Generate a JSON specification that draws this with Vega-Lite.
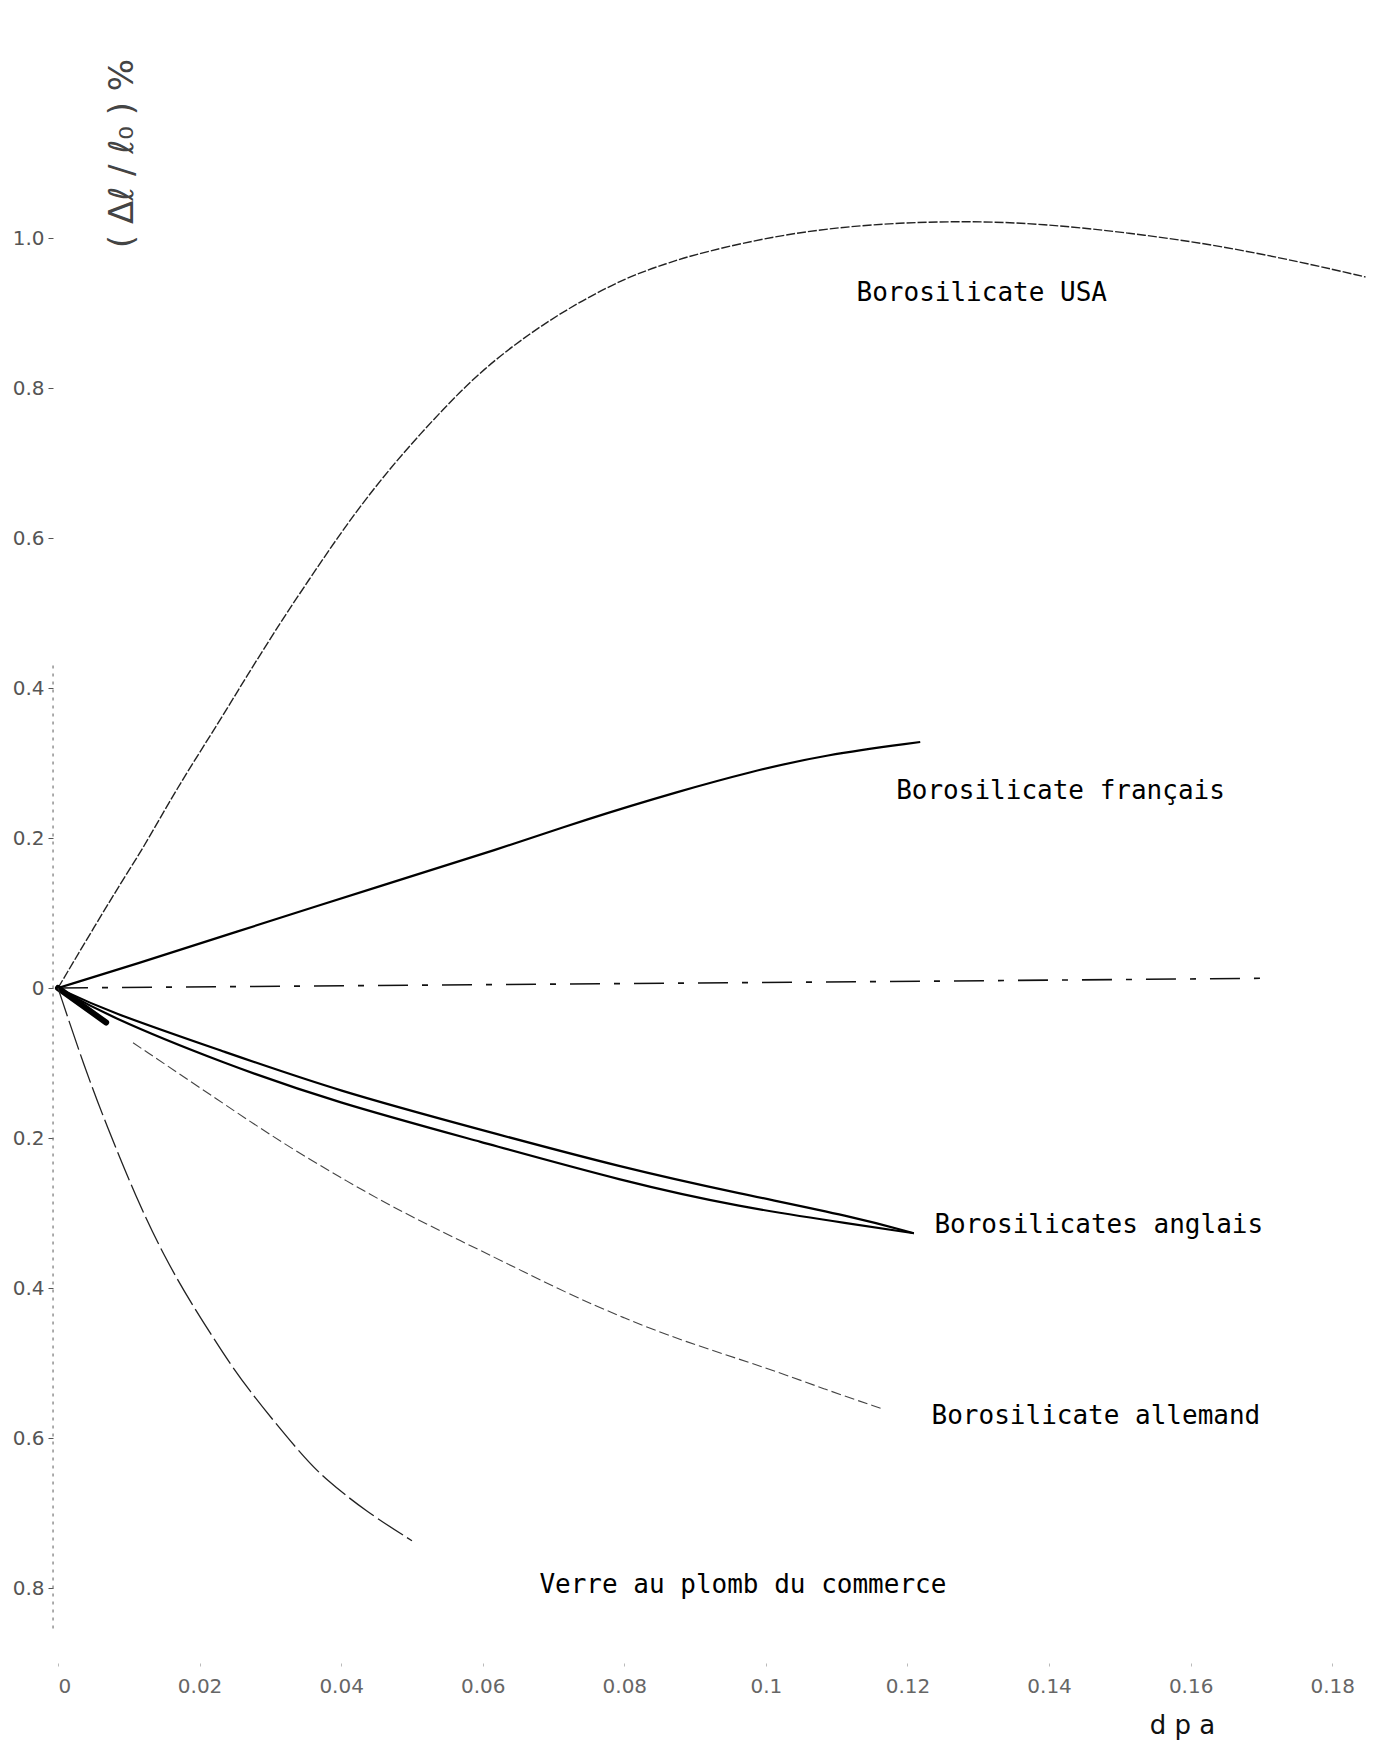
{
  "$schema": "https://vega.github.io/schema/vega-lite/v6.json",
  "width": 1316,
  "height": 1650,
  "autosize": {"type": "none"},
  "padding": {"left": 58, "top": 13, "right": 0, "bottom": 81},
  "background": "white",
  "config": {"view": {"stroke": null}, "font": "DejaVu Sans"},
  "datasets": {
    "curves": [
      {"s": "usa", "x": 0, "y": 0},
      {"s": "usa", "x": 0.0083, "y": 0.132},
      {"s": "usa", "x": 0.0121, "y": 0.187},
      {"s": "usa", "x": 0.0165, "y": 0.262},
      {"s": "usa", "x": 0.0229, "y": 0.357},
      {"s": "usa", "x": 0.0266, "y": 0.415},
      {"s": "usa", "x": 0.0316, "y": 0.49},
      {"s": "usa", "x": 0.0355, "y": 0.545},
      {"s": "usa", "x": 0.0393, "y": 0.598},
      {"s": "usa", "x": 0.0436, "y": 0.654},
      {"s": "usa", "x": 0.0487, "y": 0.713},
      {"s": "usa", "x": 0.0544, "y": 0.772},
      {"s": "usa", "x": 0.06, "y": 0.825},
      {"s": "usa", "x": 0.0669, "y": 0.875},
      {"s": "usa", "x": 0.0733, "y": 0.913},
      {"s": "usa", "x": 0.0802, "y": 0.947},
      {"s": "usa", "x": 0.0859, "y": 0.966},
      {"s": "usa", "x": 0.091, "y": 0.981},
      {"s": "usa", "x": 0.1028, "y": 1.006},
      {"s": "usa", "x": 0.115, "y": 1.019},
      {"s": "usa", "x": 0.1282, "y": 1.023},
      {"s": "usa", "x": 0.1391, "y": 1.019},
      {"s": "usa", "x": 0.1513, "y": 1.007},
      {"s": "usa", "x": 0.1634, "y": 0.991},
      {"s": "usa", "x": 0.1756, "y": 0.968},
      {"s": "usa", "x": 0.1847, "y": 0.948},
      {"s": "fr", "x": 0, "y": 0},
      {"s": "fr", "x": 0.0114, "y": 0.033},
      {"s": "fr", "x": 0.0232, "y": 0.069},
      {"s": "fr", "x": 0.0475, "y": 0.142},
      {"s": "fr", "x": 0.0619, "y": 0.184},
      {"s": "fr", "x": 0.0746, "y": 0.225},
      {"s": "fr", "x": 0.088, "y": 0.263},
      {"s": "fr", "x": 0.0977, "y": 0.288},
      {"s": "fr", "x": 0.1083, "y": 0.311},
      {"s": "fr", "x": 0.1218, "y": 0.328},
      {"s": "zero", "x": 0, "y": 0},
      {"s": "zero", "x": 0.122, "y": 0.009},
      {"s": "zero", "x": 0.171, "y": 0.013},
      {"s": "ang1", "x": 0, "y": 0},
      {"s": "ang1", "x": 0.0069, "y": -0.031},
      {"s": "ang1", "x": 0.0232, "y": -0.084},
      {"s": "ang1", "x": 0.0394, "y": -0.137},
      {"s": "ang1", "x": 0.0597, "y": -0.189},
      {"s": "ang1", "x": 0.0799, "y": -0.24},
      {"s": "ang1", "x": 0.0962, "y": -0.274},
      {"s": "ang1", "x": 0.1124, "y": -0.305},
      {"s": "ang1", "x": 0.1209, "y": -0.327},
      {"s": "ang2", "x": 0, "y": 0},
      {"s": "ang2", "x": 0.0069, "y": -0.037},
      {"s": "ang2", "x": 0.0232, "y": -0.1},
      {"s": "ang2", "x": 0.0394, "y": -0.153},
      {"s": "ang2", "x": 0.0597, "y": -0.205},
      {"s": "ang2", "x": 0.0799, "y": -0.258},
      {"s": "ang2", "x": 0.0962, "y": -0.292},
      {"s": "ang2", "x": 0.1124, "y": -0.315},
      {"s": "ang2", "x": 0.1209, "y": -0.327},
      {"s": "stub", "x": 0, "y": 0},
      {"s": "stub", "x": 0.0068, "y": -0.046},
      {"s": "all", "x": 0.0106, "y": -0.073},
      {"s": "all", "x": 0.0232, "y": -0.153},
      {"s": "all", "x": 0.0314, "y": -0.205},
      {"s": "all", "x": 0.041, "y": -0.259},
      {"s": "all", "x": 0.0492, "y": -0.302},
      {"s": "all", "x": 0.0621, "y": -0.361},
      {"s": "all", "x": 0.0719, "y": -0.407},
      {"s": "all", "x": 0.0799, "y": -0.44},
      {"s": "all", "x": 0.088, "y": -0.47},
      {"s": "all", "x": 0.1003, "y": -0.507},
      {"s": "all", "x": 0.1083, "y": -0.535},
      {"s": "all", "x": 0.1164, "y": -0.561},
      {"s": "pb", "x": 0, "y": 0},
      {"s": "pb", "x": 0.0037, "y": -0.105},
      {"s": "pb", "x": 0.0069, "y": -0.184},
      {"s": "pb", "x": 0.011, "y": -0.279},
      {"s": "pb", "x": 0.0151, "y": -0.36},
      {"s": "pb", "x": 0.0191, "y": -0.425},
      {"s": "pb", "x": 0.0232, "y": -0.485},
      {"s": "pb", "x": 0.0264, "y": -0.53},
      {"s": "pb", "x": 0.0345, "y": -0.624},
      {"s": "pb", "x": 0.0378, "y": -0.655},
      {"s": "pb", "x": 0.0435, "y": -0.698},
      {"s": "pb", "x": 0.05, "y": -0.737}
    ],
    "labels": [
      {"label": "Borosilicate USA", "x": 0.1128, "y": 0.927},
      {"label": "Borosilicate français", "x": 0.1184, "y": 0.263},
      {"label": "Borosilicates anglais", "x": 0.1238, "y": -0.316},
      {"label": "Borosilicate allemand", "x": 0.1234, "y": -0.571},
      {"label": "Verre au plomb du commerce", "x": 0.068, "y": -0.796}
    ]
  },
  "layer": [
    {
      "data": {"values": [{}]},
      "mark": {"type": "rule", "color": "#777", "strokeWidth": 1.2, "strokeDash": [3, 5]},
      "encoding": {
        "x": {"datum": -0.0007, "type": "quantitative", "scale": {"domain": [0, 0.1859], "nice": false, "zero": false},
          "axis": {
            "values": [0, 0.02, 0.04, 0.06, 0.08, 0.1, 0.12, 0.14, 0.16, 0.18],
            "format": "~g",
            "domain": false, "grid": false,
            "ticks": true, "tickSize": 3, "tickColor": "#bbb",
            "labelFontSize": 20, "labelColor": "#666", "labelPadding": 10,
            "title": "d p a", "titleFontSize": 26, "titleFontWeight": "normal", "titleColor": "#111",
            "titleX": 1124, "titleY": 62, "titleAlign": "center", "titleBaseline": "middle"
          }},
        "y": {"datum": 0.43, "type": "quantitative", "scale": {"domain": [-0.9, 1.3], "nice": false, "zero": false},
          "axis": {
            "values": [-0.8, -0.6, -0.4, -0.2, 0, 0.2, 0.4, 0.6, 0.8, 1.0],
            "labelExpr": "datum.value == 0 ? '0' : format(abs(datum.value), '.1f')",
            "offset": 5, "domain": false, "grid": false,
            "ticks": true, "tickSize": 5, "tickColor": "#555",
            "labelFontSize": 20, "labelColor": "#555", "labelPadding": 4,
            "title": "( Δℓ / ℓ₀ )  %", "titleAngle": -90, "titleFontSize": 34, "titleFontWeight": "normal", "titleColor": "#444", "titleFont": "DejaVu Sans",
            "titleX": 69, "titleY": 140, "titleAlign": "center", "titleBaseline": "middle"
          }},
        "y2": {"datum": -0.86}
      }
    },
    {
      "data": {"name": "curves"},
      "transform": [{"filter": "datum.s == 'usa'"}],
      "mark": {"type": "line", "interpolate": "basis", "color": "#222", "strokeWidth": 1.4, "strokeDash": [9, 2]},
      "encoding": {"x": {"field": "x", "type": "quantitative"}, "y": {"field": "y", "type": "quantitative"}}
    },
    {
      "data": {"name": "curves"},
      "transform": [{"filter": "datum.s == 'fr'"}],
      "mark": {"type": "line", "interpolate": "basis", "color": "#000", "strokeWidth": 2.2},
      "encoding": {"x": {"field": "x", "type": "quantitative"}, "y": {"field": "y", "type": "quantitative"}}
    },
    {
      "data": {"name": "curves"},
      "transform": [{"filter": "datum.s == 'zero'"}],
      "mark": {"type": "line", "color": "#111", "strokeWidth": 1.6, "strokeDash": [30, 14, 6, 14]},
      "encoding": {"x": {"field": "x", "type": "quantitative"}, "y": {"field": "y", "type": "quantitative"}}
    },
    {
      "data": {"name": "curves"},
      "transform": [{"filter": "datum.s == 'ang1' || datum.s == 'ang2'"}],
      "mark": {"type": "line", "interpolate": "basis", "color": "#000", "strokeWidth": 2.2},
      "encoding": {"x": {"field": "x", "type": "quantitative"}, "y": {"field": "y", "type": "quantitative"}, "detail": {"field": "s"}}
    },
    {
      "data": {"name": "curves"},
      "transform": [{"filter": "datum.s == 'stub'"}],
      "mark": {"type": "line", "color": "#000", "strokeWidth": 6, "strokeCap": "round"},
      "encoding": {"x": {"field": "x", "type": "quantitative"}, "y": {"field": "y", "type": "quantitative"}}
    },
    {
      "data": {"name": "curves"},
      "transform": [{"filter": "datum.s == 'all'"}],
      "mark": {"type": "line", "interpolate": "basis", "color": "#444", "strokeWidth": 1.1, "strokeDash": [10, 4]},
      "encoding": {"x": {"field": "x", "type": "quantitative"}, "y": {"field": "y", "type": "quantitative"}}
    },
    {
      "data": {"name": "curves"},
      "transform": [{"filter": "datum.s == 'pb'"}],
      "mark": {"type": "line", "interpolate": "basis", "color": "#222", "strokeWidth": 1.3, "strokeDash": [30, 5]},
      "encoding": {"x": {"field": "x", "type": "quantitative"}, "y": {"field": "y", "type": "quantitative"}}
    },
    {
      "data": {"name": "labels"},
      "mark": {"type": "text", "align": "left", "baseline": "middle", "font": "DejaVu Sans Mono", "fontSize": 26, "color": "#000"},
      "encoding": {"x": {"field": "x", "type": "quantitative"}, "y": {"field": "y", "type": "quantitative"}, "text": {"field": "label"}}
    }
  ]
}
